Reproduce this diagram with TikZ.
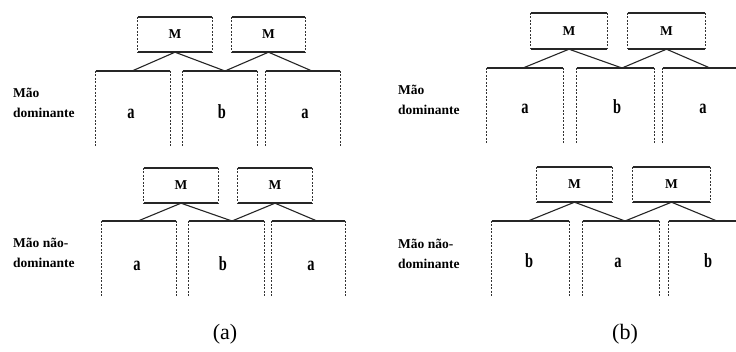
\documentclass[tikz,border=0pt]{standalone}
\usepackage{fontspec}
\usepackage{graphicx}
\setmainfont{Liberation Serif}
\tikzset{
  solidedge/.style={line width=1.5pt, draw=black!85},
  dashedge/.style={line width=1.1pt, draw=black!80, dash pattern=on 2pt off 1.5pt},
  mbox/.style={minimum height=35pt, inner sep=0pt, font=\fontsize{13.5}{13.5}\selectfont\bfseries},
  col/.style={minimum height=76pt, inner sep=0pt},
  letter/.style={anchor=base, inner sep=0pt, font=\fontsize{20}{20}\selectfont\bfseries},
  handlbl/.style={anchor=west, align=left, inner sep=0pt, font=\fontsize{13.5}{20}\selectfont\bfseries},
  captxt/.style={font=\fontsize{22}{22}\selectfont, inner sep=0pt},
  conn/.style={line width=1.1pt, draw=black!85}
}
\newcommand{\nl}[1]{\scalebox{0.72}[1]{#1}}
\newcommand{\mboxedges}[1]{%
  \draw[solidedge] (#1.north west) -- (#1.north east);
  \draw[solidedge] (#1.south west) -- (#1.south east);
  \draw[dashedge] (#1.north west) -- (#1.south west);
  \draw[dashedge] (#1.north east) -- (#1.south east);}
\newcommand{\coledges}[1]{%
  \draw[solidedge] (#1.north west) -- (#1.north east);
  \draw[dashedge] (#1.north west) -- (#1.south west);
  \draw[dashedge] (#1.north east) -- (#1.south east);}
\begin{document}
\begin{tikzpicture}[x=1pt,y=-1pt]
\useasboundingbox (0,0) rectangle (736,351);
\clip (0,0) rectangle (736,351);
\fill[white] (0,0) rectangle (736,351);

% ---------- panel (a), top ----------
\node[handlbl] (la1) at (13,102.5) {Mão\\dominante};
\node[mbox, minimum width=74pt] (am1) at (175,34.5) {M};
\node[mbox, minimum width=73pt] (am2) at (268.5,34.5) {M};
\node[col, minimum width=74pt] (ac1) at (133,109) {};
\node[col, minimum width=74pt] (ac2) at (220,109) {};
\node[col, minimum width=74pt] (ac3) at (303,109) {};
\node[letter] (at1) at (131,118) {\nl{a}};
\node[letter] (at2) at (222,118) {\nl{b}};
\node[letter] (at3) at (305,118) {\nl{a}};
\foreach \n in {am1,am2} {\mboxedges{\n}}
\foreach \n in {ac1,ac2,ac3} {\coledges{\n}}
\coordinate (ae1) at (132,71);
\coordinate (ae2) at (225,71);
\coordinate (ae3) at (312,71);
\draw[conn] (ae1) -- (am1.south) -- (ae2) -- (am2.south) -- (ae3);

% ---------- panel (a), bottom ----------
\node[handlbl] (la2) at (13,253) {Mão não-\\dominante};
\node[mbox, minimum width=74pt] (bm1) at (181,185.5) {M};
\node[mbox, minimum width=74pt] (bm2) at (275,185.5) {M};
\node[col, minimum width=74pt] (bc1) at (139,259) {};
\node[col, minimum width=75pt] (bc2) at (226.5,259) {};
\node[col, minimum width=73pt] (bc3) at (308.5,259) {};
\node[letter] (bt1) at (137,270) {\nl{a}};
\node[letter] (bt2) at (223,270) {\nl{b}};
\node[letter] (bt3) at (311,270) {\nl{a}};
\foreach \n in {bm1,bm2} {\mboxedges{\n}}
\foreach \n in {bc1,bc2,bc3} {\coledges{\n}}
\coordinate (be1) at (138,221);
\coordinate (be2) at (232,221);
\coordinate (be3) at (317,221);
\draw[conn] (be1) -- (bm1.south) -- (be2) -- (bm2.south) -- (be3);

% ---------- panel (b), top ----------
\node[handlbl] (lb1) at (398,100) {Mão\\dominante};
\node[mbox, minimum width=76pt, minimum height=36pt] (cm1) at (569,31) {M};
\node[mbox, minimum width=77pt, minimum height=36pt] (cm2) at (666.5,31) {M};
\node[col, minimum width=76pt, minimum height=75pt] (cc1) at (525,105.5) {};
\node[col, minimum width=77pt, minimum height=75pt] (cc2) at (615.5,105.5) {};
\node[col, minimum width=77pt, minimum height=75pt] (cc3) at (701.5,105.5) {};
\node[letter] (ct1) at (525,113) {\nl{a}};
\node[letter] (ct2) at (617,113) {\nl{b}};
\node[letter] (ct3) at (703,113) {\nl{a}};
\foreach \n in {cm1,cm2} {\mboxedges{\n}}
\foreach \n in {cc1,cc2,cc3} {\coledges{\n}}
\coordinate (ce1) at (523,68);
\coordinate (ce2) at (622,68);
\coordinate (ce3) at (710,68);
\draw[conn] (ce1) -- (cm1.south) -- (ce2) -- (cm2.south) -- (ce3);

% ---------- panel (b), bottom ----------
\node[handlbl] (lb2) at (398,254) {Mão não-\\dominante};
\node[mbox, minimum width=75pt] (dm1) at (574.5,184.5) {M};
\node[mbox, minimum width=77pt] (dm2) at (671.5,184.5) {M};
\node[col, minimum width=77pt] (dc1) at (530.5,259) {};
\node[col, minimum width=76pt] (dc2) at (621,259) {};
\node[col, minimum width=77pt] (dc3) at (707.5,259) {};
\node[letter] (dt1) at (529,267) {\nl{b}};
\node[letter] (dt2) at (618,267) {\nl{a}};
\node[letter] (dt3) at (708,267) {\nl{b}};
\foreach \n in {dm1,dm2} {\mboxedges{\n}}
\foreach \n in {dc1,dc2,dc3} {\coledges{\n}}
\coordinate (de1) at (528,221);
\coordinate (de2) at (625,221);
\coordinate (de3) at (717,221);
\draw[conn] (de1) -- (dm1.south) -- (de2) -- (dm2.south) -- (de3);

% ---------- captions ----------
\node[captxt] (capa) at (225,334) {(a)};
\node[captxt] (capb) at (625,334) {(b)};
\end{tikzpicture}
\end{document}
